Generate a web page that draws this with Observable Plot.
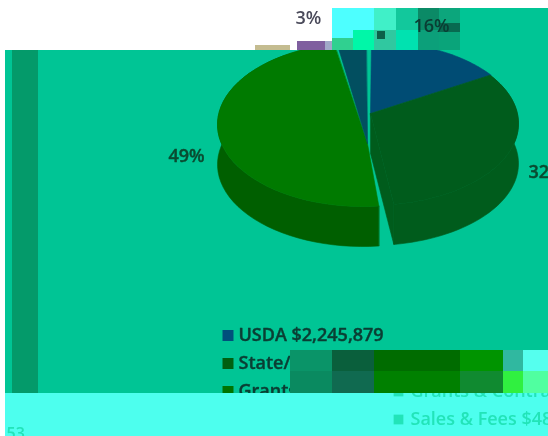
<!DOCTYPE html>
<html><head><meta charset="utf-8">
<script src="https://cdn.jsdelivr.net/npm/d3@7"></script>
<script src="https://cdn.jsdelivr.net/npm/@observablehq/plot@0.6"></script>
<style>
html,body{margin:0;padding:0;background:#fff;overflow:hidden}
#w{position:relative;width:548px;height:436px;overflow:hidden;background:#fff}
#w svg{position:absolute;left:0;top:0;background:transparent;filter:blur(.7px);overflow:hidden}
.b{position:absolute}
#blocks{position:absolute;left:0;top:0;width:548px;height:436px;filter:blur(.5px)}
</style></head><body><div id="w"></div>
<script>
// data
const sources = ["USDA","State/Local","Grants & Contracts","Sales & Fees"];
const amounts = [2245879,4490000,6880000,480053];
const amountLabels = ["$2,245,879","$4,490,000","$6,880,000","$480,053"];
const percents = ["16%","32%","49%","3%"];
const topColors = ["#004c74","#005c1c","#007a00","#024f60"];
const wallColors = ["#003f60","#005c1c","#005f00","#01404e"];
const swatchColors = ["#00507c","#006010","#007400","#22e4b8"];

// layout
const W=548,H=436,depth=40,ry=82,startDeg=-3.5;
const total=d3.sum(amounts);
const apexes=[[370,113],[370,113],[367,143],[367,143]];
const centers=[[371,123],[370,123],[362,124],[366,124]];
const radii=[148,148,145,150];
const pads=[[3.5,0],[0,2.4],[5,4.5],[4.5,3.4]];
let a=startDeg;
const slices=sources.map((s,i)=>{
  const a0=a+pads[i][0],a1full=a+amounts[i]/total*360,a1=a1full+pads[i][1]; a=a1full;
  const arc=[];
  for(let t=0;t<=48;t++){
    const r=(a0+(a1-a0)*t/48)*Math.PI/180;
    arc.push([centers[i][0]+radii[i]*Math.sin(r),centers[i][1]-ry*Math.cos(r)]);
  }
  return {i,arc,apex:apexes[i]};
});
const ring=pts=>({type:"Polygon",coordinates:[[...pts,pts[0]]]});
const down=(p)=>[p[0],p[1]+depth];
const wall=s=>({i:s.i,geom:ring([...s.arc,...s.arc.slice().reverse().map(down)])});
const cutEnd=s=>({i:s.i,geom:ring([s.apex,s.arc[48],down(s.arc[48]),down(s.apex)])});
const tops=slices.map(s=>({i:s.i,geom:ring([s.apex,...s.arc])}));

const row=i=>335+28*i;
const legendText=i=>sources[i]+" "+amountLabels[i];
const font={fontFamily:"'Open Sans'",fontWeight:600};
const base={width:W,height:H,margin:0,projection:d3.geoIdentity()};
const geo=(d,colors)=>Plot.geo(d,{geometry:x=>x.geom,fill:x=>colors[x.i],stroke:x=>colors[x.i],strokeWidth:.6});

const wr=document.getElementById("w");

function block(x,y,w,h,c,parent){
  const d=document.createElement("div");d.className="b";
  d.style.cssText=`left:${x}px;top:${y}px;width:${w}px;height:${h}px;background:${c}`;
  (parent||wr).appendChild(d);
}
block(5,50,543,343,"#00c595");
block(12,50,26,343,"#049a6a");

const under=Plot.plot({...base,marks:[
  geo([wall(slices[1]),cutEnd(slices[1])],wallColors),
  geo([wall(slices[2])],wallColors),
  geo(tops,topColors),
  Plot.text([2],{x:()=>186,y:()=>156,text:i=>percents[i],...font,fontSize:18,fill:"#0a4a30",stroke:"#0a4a30",strokeWidth:.4}),
  Plot.text([1],{x:()=>528,y:()=>172,text:i=>percents[i],...font,fontSize:18,textAnchor:"start",fill:"#0a4a30",stroke:"#0a4a30",strokeWidth:.4}),
  Plot.dot([0,1,2],{x:()=>227.5,y:i=>row(i),symbol:"square",r:6.2,fill:i=>swatchColors[i]}),
  Plot.text([0,1,2],{x:()=>238,y:i=>row(i),text:legendText,...font,fontSize:18,textAnchor:"start",fill:"#0a3d33",stroke:"#0a3d33",strokeWidth:.4})
]});
wr.appendChild(under);

const bl=document.createElement("div");bl.id="blocks";wr.appendChild(bl);
// top band
block(0,0,548,8,"#fff",bl);
block(0,8,332,42,"#fff",bl);
block(255,45,35,5,"#c4bc90",bl);
block(297,41,28,9,"#7f5f9f",bl);
block(332,38,21,12,"#30d090",bl);
block(325,41,7,9,"#a0a8c8",bl);
block(332,8,42,22,"#4dffff",bl);
block(332,30,21,8,"#4dffff",bl);
block(353,30,21,20,"#00f7a8",bl);
block(374,8,22,22,"#40f0c8",bl);
block(374,30,22,20,"#30c8a0",bl);
block(377,31,8,8,"#0c6048",bl);
block(396,8,22,22,"#12c89c",bl);
block(396,30,22,20,"#00e2b0",bl);
block(418,8,21,22,"#0b8a66",bl);
block(418,30,21,20,"#0ca07a",bl);
block(439,8,21,16,"#0ca67c",bl);
block(439,23,21,9,"#086a50",bl);
block(439,32,21,18,"#0aa47a",bl);
block(460,8,88,42,"#00c595",bl);
// legend band
block(290,350,42,21,"#0a9468",bl);
block(290,371,42,22,"#0a8a60",bl);
block(332,350,42,21,"#0a5f3c",bl);
block(332,371,42,22,"#106a50",bl);
block(374,350,86,21,"#006c00",bl);
block(374,371,86,22,"#008000",bl);
block(460,350,43,21,"#009400",bl);
block(460,371,43,22,"#108a30",bl);
block(503,350,20,21,"#30b8a0",bl);
block(503,371,20,22,"#30f040",bl);
block(523,350,25,21,"#55ffee",bl);
block(523,371,25,22,"#50ffa0",bl);
// bottom band
block(5,393,543,43,"#4dffee",bl);

const over=Plot.plot({...base,marks:[
  Plot.text([3],{x:()=>308,y:()=>18,text:i=>percents[i],...font,fontSize:18,fill:"#4a4a5a"}),
  Plot.text([0],{x:()=>431,y:()=>26,text:i=>percents[i],...font,fontSize:18,fill:"#0a3d33"})
]});
wr.appendChild(over);

const band=Plot.plot({...base,marks:[
  Plot.dot([2,3],{x:()=>398,y:i=>row(i),symbol:"square",r:5.5,fill:i=>swatchColors[3]}),
  Plot.text([2,3],{x:()=>410,y:i=>row(i),text:legendText,...font,fontSize:18,textAnchor:"start",fill:"#22e4b8"}),
  Plot.text(["53"],{x:()=>6,y:()=>433,text:d=>d,...font,fontSize:16,textAnchor:"start",fill:"#22e4b8"})
]});
band.style.clipPath="inset(393px 0 0 0)";
wr.appendChild(band);
</script></body></html>
